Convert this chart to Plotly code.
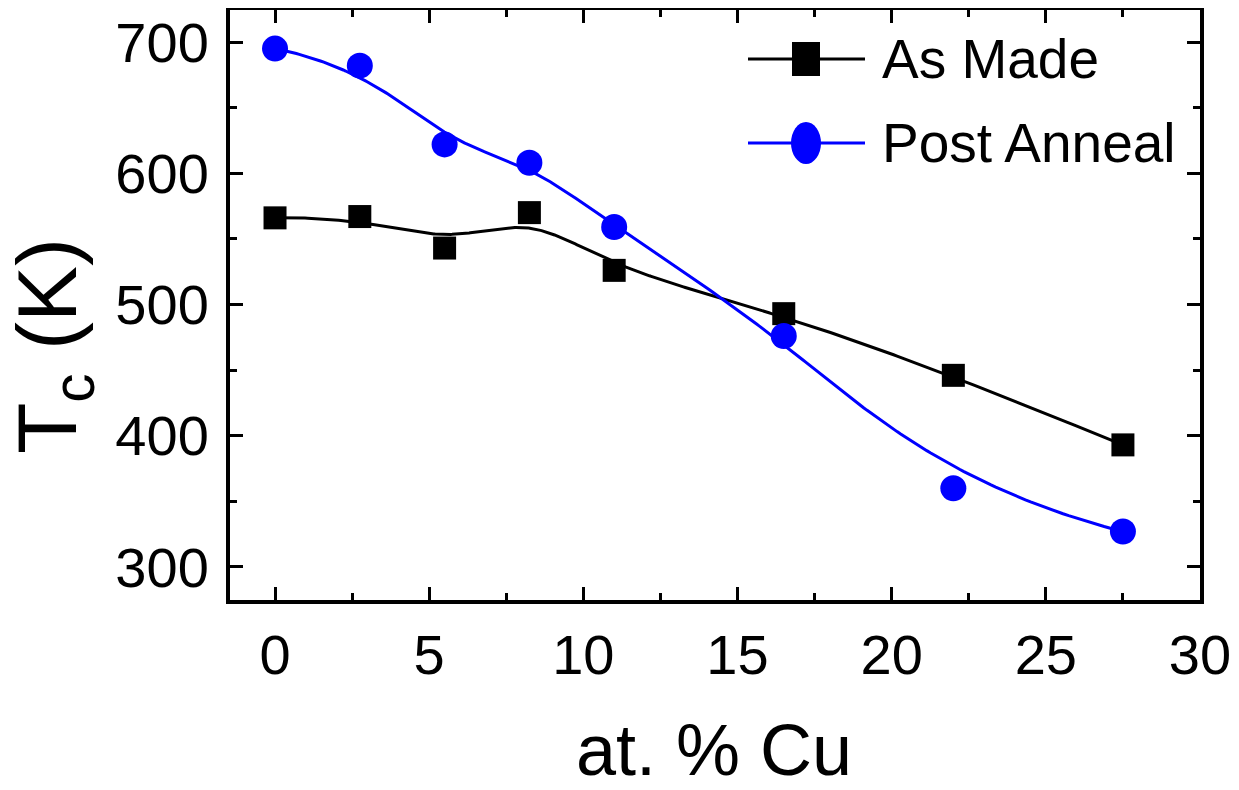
import numpy as np
import plotly.graph_objects as go

# ---- data ----
cu_at_pct = [0, 2.75, 5.5, 8.25, 11, 16.5, 22, 27.5]
tc_as_made = [566, 567, 543, 570, 526, 493, 446, 393]
tc_post_anneal = [695, 682, 622, 608, 559, 476, 360, 327]
series_names = ["As Made", "Post Anneal"]
x_ticks = [0, 5, 10, 15, 20, 25, 30]
y_ticks = [300, 400, 500, 600, 700]

# ---- B-spline (clamped cubic) with data points as control points ----
def bspline(xs, ys, n_out=400, k=3):
    P = np.column_stack([xs, ys]).astype(float)
    n = len(P)
    inner = np.arange(1, n - k)
    knots = np.concatenate([np.zeros(k + 1), inner, np.full(k + 1, n - k)]).astype(float)
    ts = np.linspace(0, n - k, n_out)
    out = []
    for t in ts:
        N = np.zeros(len(knots) - 1)
        for i in range(len(knots) - 1):
            if knots[i] <= t < knots[i + 1]:
                N[i] = 1.0
        if t >= knots[-1]:
            N[n - 1] = 1.0
        for d in range(1, k + 1):
            Nn = np.zeros(len(knots) - 1 - d)
            for i in range(len(knots) - 1 - d):
                a = 0.0
                if knots[i + d] != knots[i]:
                    a = (t - knots[i]) / (knots[i + d] - knots[i]) * N[i]
                b = 0.0
                if knots[i + d + 1] != knots[i + 1]:
                    b = (knots[i + d + 1] - t) / (knots[i + d + 1] - knots[i + 1]) * N[i + 1]
                Nn[i] = a + b
            N = Nn
        out.append(N[:n] @ P)
    out = np.array(out)
    return out[:, 0], out[:, 1]

FONT = "Liberation Sans, Arial, sans-serif"

fig = go.Figure()
for ys, col, sym, size in [(tc_as_made, "black", "square", 23), (tc_post_anneal, "#0000ff", "circle", 26)]:
    bx, by = bspline(cu_at_pct, ys)
    fig.add_trace(go.Scatter(x=bx, y=by, mode="lines", line=dict(color=col, width=3),
                             showlegend=False, hoverinfo="skip"))
    fig.add_trace(go.Scatter(x=cu_at_pct, y=ys, mode="markers",
                             marker=dict(symbol=sym, size=size, color=col, line=dict(width=0)),
                             showlegend=False))

# page has an 8px body margin: figure coordinates = page coordinates - 8
OFF = 8
W, H = 1239 - OFF, 790 - OFF
L, R, T, B = 230 - OFF, 1200 - OFF, 10 - OFF, 600 - OFF
def px(x_page):
    return (x_page - OFF - L) / (R - L)
def py(y_page):
    return (B - (y_page - OFF)) / (B - T)

shapes = []
annotations = []
# manual legend
for name, col, kind, yrow in [(series_names[0], "black", "rect", 59), (series_names[1], "#0000ff", "circle", 143)]:
    shapes.append(dict(type="line", xref="paper", yref="paper", x0=px(748), x1=px(865),
                       y0=py(yrow), y1=py(yrow), line=dict(color=col, width=3)))
    if kind == "rect":
        hw, hh = 14, 17
    else:
        hw, hh = 15, 21
    shapes.append(dict(type=kind, xref="paper", yref="paper", x0=px(806 - hw), x1=px(806 + hw),
                       y0=py(yrow + hh), y1=py(yrow - hh), fillcolor=col, line=dict(width=0)))
    annotations.append(dict(text=name, xref="paper", yref="paper", x=px(880), y=py(yrow),
                            xanchor="left", yanchor="middle", showarrow=False,
                            font=dict(family=FONT, size=55, color="black")))

# y-axis title
annotations.append(dict(text="T<sub>c</sub> (K)", xref="paper", yref="paper", x=px(53), y=py(346),
                        xanchor="center", yanchor="middle", textangle=-90, showarrow=False,
                        font=dict(family=FONT, size=84, color="black")))
# x-axis title
annotations.append(dict(text="at. % Cu", xref="paper", yref="paper", x=px(714), y=py(750),
                        xanchor="center", yanchor="middle", showarrow=False,
                        font=dict(family=FONT, size=72, color="black")))

axis_common = dict(showline=True, linecolor="black", linewidth=4, mirror="ticks",
                   ticks="inside", ticklen=13, tickwidth=3, tickcolor="black",
                   showgrid=False, zeroline=False, automargin=False,
                   tickfont=dict(family=FONT, size=56, color="black"))

fig.update_layout(
    width=W, height=H,
    margin=dict(l=L, r=W - R, t=T, b=H - B, pad=0),
    plot_bgcolor="white", paper_bgcolor="white",
    shapes=shapes, annotations=annotations,
    xaxis=dict(range=[-1.46, 30], tickvals=x_ticks,
               minor=dict(dtick=2.5, tick0=0, ticks="inside", ticklen=7, tickwidth=3, tickcolor="black"),
               ticklabelstandoff=3,
               **axis_common),
    yaxis=dict(range=[274.8, 724.4], tickvals=y_ticks,
               minor=dict(dtick=50, tick0=0, ticks="inside", ticklen=7, tickwidth=3, tickcolor="black"),
               ticklabelstandoff=6,
               **axis_common),
)
fig.write_html("out.html")
